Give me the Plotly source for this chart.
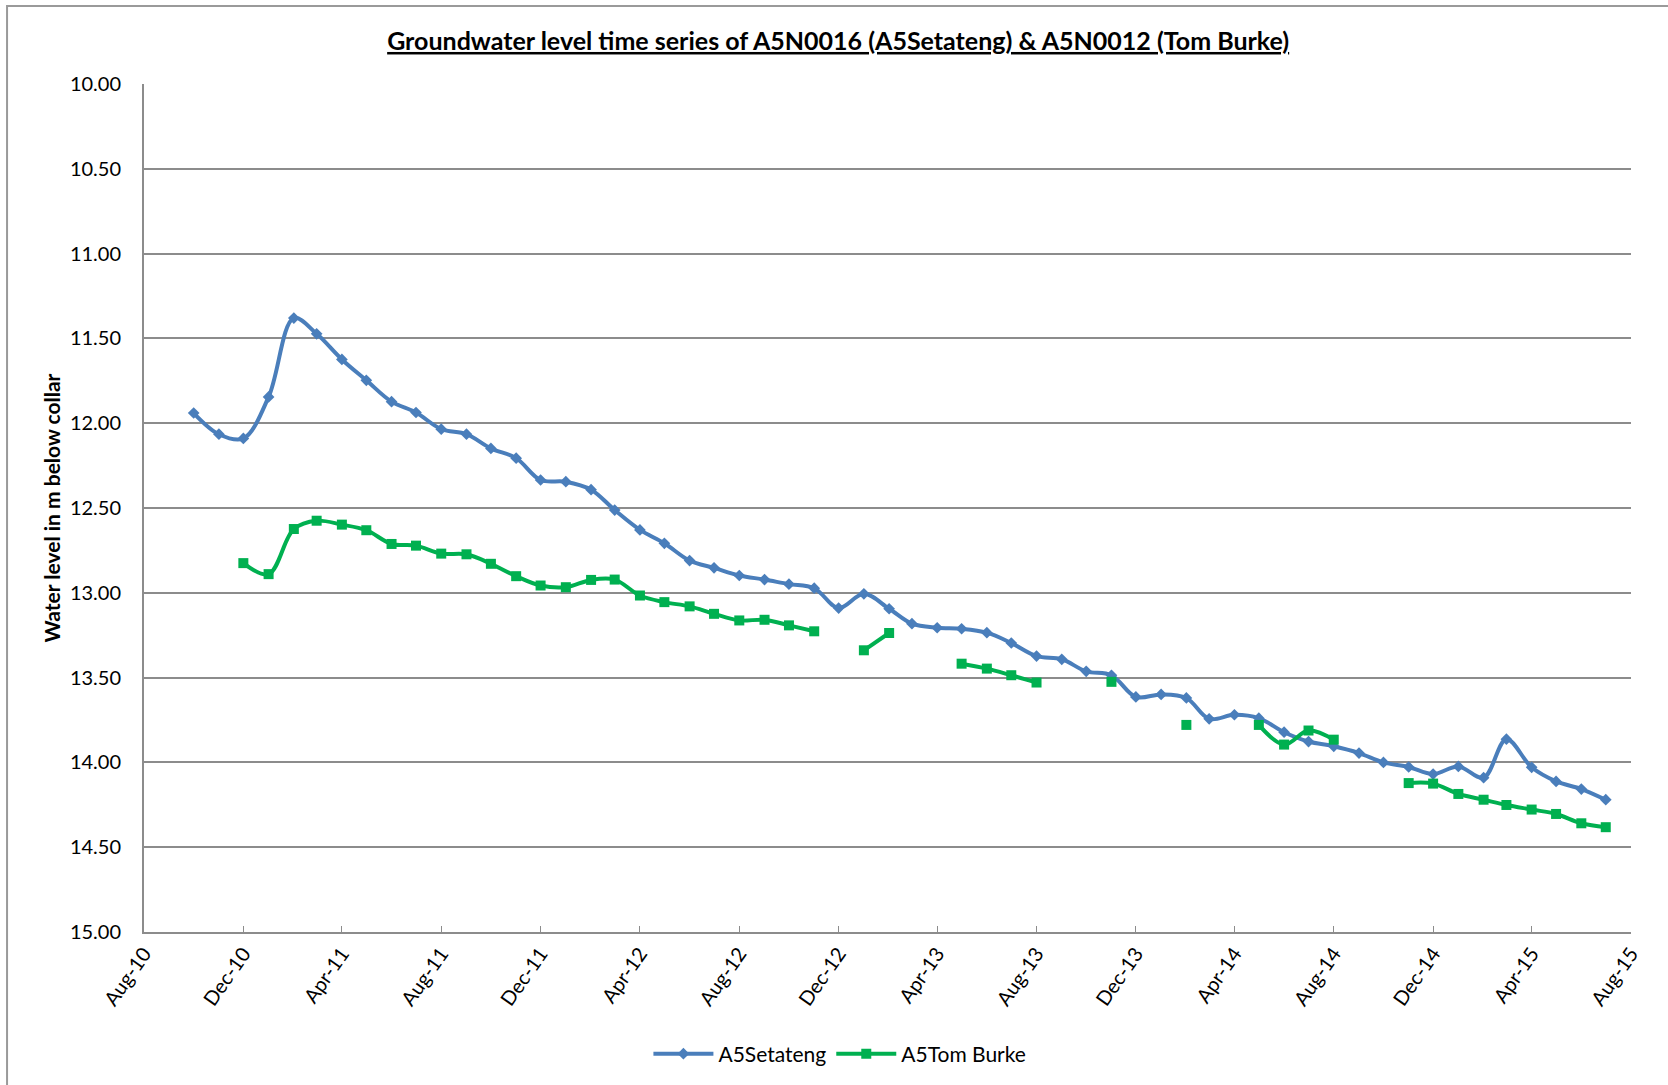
import pandas as pd
import plotly.graph_objects as go

# monthly readings, Oct-2010 .. Jul-2015
months = pd.date_range("2010-10-01", "2015-07-01", freq="MS")

setateng = [11.94, 12.065, 12.09,
            11.845, 11.38, 11.473, 11.624, 11.747, 11.873, 11.937, 12.035, 12.065, 12.149, 12.206, 12.335,
            12.345, 12.392, 12.512, 12.629, 12.708, 12.81, 12.853, 12.898, 12.922, 12.949, 12.973, 13.09,
            13.006, 13.094, 13.182, 13.206, 13.212, 13.235, 13.296, 13.373, 13.392, 13.463, 13.486, 13.614,
            13.599, 13.62, 13.743, 13.719, 13.739, 13.822, 13.877, 13.905, 13.945, 14.0, 14.027, 14.069,
            14.024, 14.09, 13.863, 14.029, 14.112, 14.157, 14.22]

tom_burke = [None, None, 12.825,
             12.89, 12.624, 12.575, 12.598, 12.631, 12.712, 12.722, 12.769, 12.773, 12.829, 12.902, 12.957,
             12.967, 12.924, 12.922, 13.016, 13.055, 13.08, 13.124, 13.163, 13.159, 13.192, 13.227, None,
             13.339, 13.237, None, None, 13.418, 13.447, 13.486, 13.529, None, None, 13.525, None,
             None, 13.779, None, None, 13.779, 13.895, 13.812, 13.866, None, None, 14.122, 14.125,
             14.186, 14.22, 14.251, 14.278, 14.304, 14.359, 14.382]

FONT = "Lato, Carlito, Calibri, sans-serif"
GRID = "#8c8c8c"

fig = go.Figure()
fig.add_trace(go.Scatter(
    x=months, y=setateng, name="A5Setateng",
    mode="lines+markers",
    line=dict(color="#4A7EBB", width=4, shape="spline", smoothing=1),
    marker=dict(symbol="diamond", size=9, color="#4A7EBB"),
))
fig.add_trace(go.Scatter(
    x=months, y=tom_burke, name="A5Tom Burke",
    mode="lines+markers", connectgaps=False,
    line=dict(color="#00B050", width=4, shape="spline", smoothing=1),
    marker=dict(symbol="square", size=10, color="#00B050"),
))

fig.update_layout(
    width=1668, height=1085,
    margin=dict(l=144, r=37, t=84, b=152),
    paper_bgcolor="white", plot_bgcolor="white",
    font=dict(family=FONT, size=20, color="black"),
    title=dict(text="<b><u>Groundwater level time series of A5N0016 (A5Setateng) & A5N0012 (Tom Burke)</u></b>",
               x=0.5025, xref="container", xanchor="center", y=0.962, yanchor="middle",
               font=dict(family=FONT, size=25, color="black")),
    showlegend=True,
    legend=dict(orientation="h", x=0.468, xanchor="center", y=-0.1425, yanchor="middle",
                font=dict(family=FONT, size=21), itemwidth=60, tracegroupgap=0),
    shapes=[dict(type="rect", xref="paper", yref="paper",
                 x0=-0.0921, y0=-0.3, x1=1.2, y1=1.0919,
                 line=dict(color="#9a9a9a", width=2), layer="below")],
)

fig.update_xaxes(
    range=["2010-08-01", "2015-08-01"],
    tick0="2010-08-01", dtick="M4", tickformat="%b-%y",
    tickangle=-55, ticks="inside", ticklen=6, tickcolor=GRID,
    showgrid=False, showline=True, linecolor=GRID, linewidth=2,
    tickfont=dict(family=FONT, size=20),
)
fig.update_yaxes(
    range=[15, 10], tick0=10, dtick=0.5, tickformat=".2f",
    showgrid=True, gridcolor=GRID, gridwidth=1.5,
    showline=True, linecolor=GRID, linewidth=2, zeroline=False,
    ticks="", ticklabelstandoff=17,
    tickfont=dict(family=FONT, size=20),
    title=dict(text="<b>Water level in m below collar</b>", standoff=4,
               font=dict(family=FONT, size=21)),
)

# drop the page's default body margin so the chart sits at the window's corner
fig.write_html("out.html", config={"displayModeBar": False},
               post_script="document.body.style.margin='0';")
